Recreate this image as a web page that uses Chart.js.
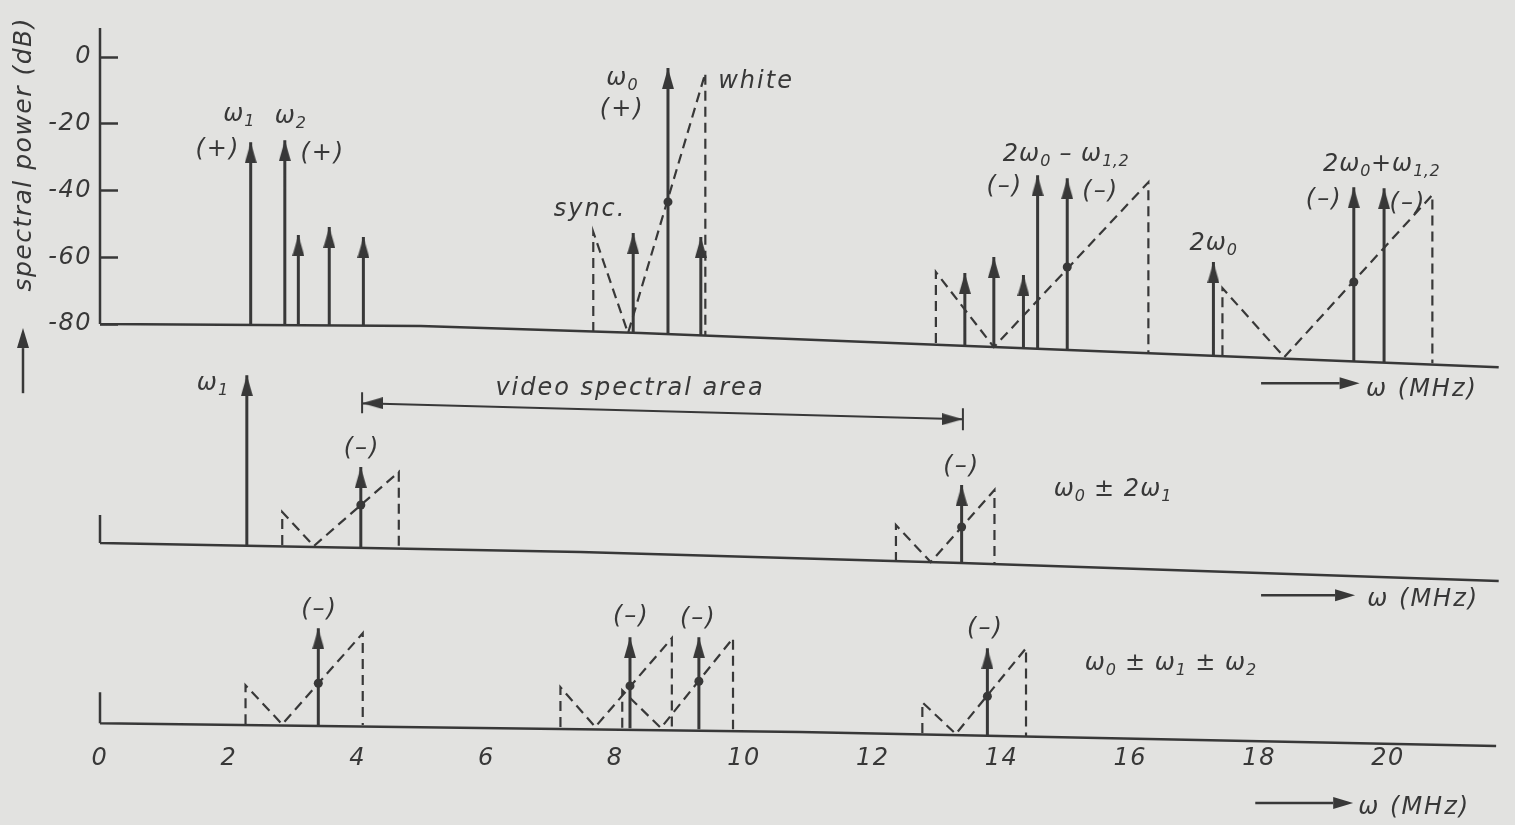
<!DOCTYPE html>
<html>
<head>
<meta charset="utf-8">
<title>spectral power</title>
<script src="https://cdn.jsdelivr.net/npm/chart.js@4.4.1/dist/chart.umd.min.js"></script>
<style>
  html, body { margin: 0; padding: 0; background: #e2e2e0; }
  #wrap { width: 1515px; height: 825px; position: relative; }
</style>
</head>
<body>
<div id="wrap"><canvas id="spectrum"></canvas></div>
<script>
// 눈금 (x: MHz, y: dB)
const xTicks = [0, 2, 4, 6, 8, 10, 12, 14, 16, 18, 20];
const yTicks = [0, -20, -40, -60, -80];

// 위 패널: 기준선, 스펙트럼 선
const topBaseX = [0, 4.98, 8.39, 13.97, 21.72];
const topBaseY = [-80.0, -80.6, -82.7, -86.9, -92.9];
const topAxisY = [8.7, -80.0];
const topLineX = [2.34, 2.87, 3.08, 3.56, 4.09, 8.28, 8.82, 9.33, 13.43, 13.88, 14.34, 14.56, 15.02, 17.29, 19.47, 19.94];
const topLineFrom = [-80.3, -80.3, -80.3, -80.4, -80.5, -82.6, -83.0, -83.3, -86.4, -86.8, -87.2, -87.3, -87.7, -89.5, -91.1, -91.5];
const topLineTo = [-25.5, -24.9, -53.3, -50.9, -53.9, -52.7, -3.3, -53.9, -64.7, -59.9, -65.3, -35.4, -36.3, -61.4, -39.0, -39.3];

// 가운데 패널: w0 ± 2w1
const midBaseX = [0, 7.46, 13.38, 21.72];
const midBaseY = [-145.6, -148.3, -151.6, -157.0];
const midStubY = [-137.2, -145.6];
const midLineX = [2.28, 4.05, 13.38];
const midLineFrom = [-146.2, -146.8, -151.6];
const midLineTo = [-95.3, -122.8, -128.2];

// 아래 패널: w0 ± w1 ± w2
const lowBaseX = [0, 10.87, 13.97, 21.68];
const lowBaseY = [-199.6, -202.2, -203.4, -206.4];
const lowStubY = [-190.3, -199.6];
const lowLineX = [3.39, 8.23, 9.30, 13.78];
const lowLineFrom = [-200.1, -201.1, -201.4, -203.1];
const lowLineTo = [-171.1, -173.8, -173.8, -177.1];

// 점선 비디오 스펙트럼 (sync ... white)
const bandX = [
    [7.66, 7.66, 8.20, 9.40, 9.40],
    [12.98, 12.98, 13.88, 16.28, 16.28],
    [17.43, 17.43, 18.39, 20.69, 20.69],
    [2.83, 2.83, 3.32, 4.64, 4.64],
    [12.36, 12.36, 12.90, 13.89, 13.89],
    [2.26, 2.26, 2.83, 4.08, 4.08],
    [7.15, 7.15, 7.69, 8.88, 8.88],
    [8.11, 8.11, 8.71, 9.83, 9.83],
    [12.77, 12.77, 13.29, 14.38, 14.38]
];
const bandY = [
    [-82.4, -52.4, -82.7, -4.8, -83.3],
    [-85.7, -64.4, -86.9, -37.5, -88.7],
    [-89.3, -69.2, -89.9, -41.3, -91.7],
    [-146.2, -136.3, -146.5, -124.3, -147.1],
    [-151.3, -140.2, -151.3, -129.7, -151.9],
    [-199.9, -188.2, -199.9, -172.6, -200.1],
    [-200.7, -188.8, -200.7, -174.1, -201.0],
    [-200.9, -189.7, -201.0, -174.1, -201.4],
    [-202.5, -193.3, -202.8, -177.1, -203.4]
];

// 점 (선과 스펙트럼이 만나는 곳)
const dotX = [8.82, 15.02, 19.47, 4.05, 13.38, 3.39, 8.23, 9.30, 13.78];
const dotY = [-43.4, -62.9, -67.4, -134.2, -140.8, -187.6, -188.4, -187.0, -191.5];

// video spectral area 치수선
const videoX = [4.07, 13.40];
const videoY = [-103.7, -108.5];
const videoBarY = [[-100.4, -106.7], [-105.2, -111.8]];

// 글자 [text, x, y, align]
const labels = [
    ['ω_1', 2.16, -16.8], ['ω_2', 2.96, -17.4],
    ['(+)', 1.83, -27.3], ['(+)', 3.46, -28.5],
    ['ω_0', 8.11, -6.0], ['(+)', 8.11, -15.3],
    ['white', 9.60, -6.9, 'left'], ['sync.', 7.61, -45.2],
    ['2ω_0 – ω_1,2', 15.00, -28.8],
    ['(–)', 14.05, -38.4], ['(–)', 15.54, -39.9],
    ['2ω_0', 17.29, -55.4],
    ['2ω_0+ω_1,2', 19.90, -31.8],
    ['(–)', 19.01, -42.2], ['(–)', 20.31, -43.4],
    ['ω (MHz)', 19.66, -99.2, 'left'],
    ['ω_1', 1.75, -97.4], ['(–)', 4.07, -116.9], ['(–)', 13.38, -122.2],
    ['ω_0 ± 2ω_1', 14.81, -129.1, 'left'],
    ['video spectral area', 8.23, -98.9],
    ['ω (MHz)', 19.68, -162.1, 'left'],
    ['(–)', 3.41, -165.1], ['(–)', 8.25, -167.2], ['(–)', 9.29, -167.8], ['(–)', 13.75, -170.8],
    ['ω_0 ± ω_1 ± ω_2', 15.29, -181.3, 'left'],
    ['ω (MHz)', 19.54, -224.4, 'left']
];

// → ω (MHz) 화살표 [x1, x2, y]
const dirArrows = [[18.03, 19.56, -97.7], [18.03, 19.49, -161.2], [17.94, 19.46, -223.5]];

const INK = '#383838';
const FONT = 'DejaVu Sans';

/**
 * 화살촉 이미지 (끝점이 캔버스 중앙)
 */
function makeHead(w, h) {
    const c = document.createElement('canvas');
    c.width = w;
    c.height = h * 2;
    const g = c.getContext('2d');
    g.fillStyle = INK;
    g.beginPath();
    g.moveTo(w / 2, h);
    g.lineTo(w, h * 2);
    g.lineTo(0, h * 2);
    g.closePath();
    g.fill();
    return c;
}
const HEAD = makeHead(12, 21);

function polyline(xs, ys) {
    const pts = xs.map((x, i) => ({x: x, y: ys[i]}));
    pts.push({x: xs[xs.length - 1], y: null});
    return pts;
}

function stems(xs, from, to) {
    const pts = [];
    xs.forEach((x, i) => {
        pts.push({x: x, y: from[i]}, {x: x, y: to[i], head: true}, {x: x, y: null});
    });
    return pts;
}

const axisData = [].concat(
    polyline([0, 0], topAxisY),
    polyline(topBaseX, topBaseY),
    polyline([0, 0], midStubY),
    polyline(midBaseX, midBaseY),
    polyline([0, 0], lowStubY),
    polyline(lowBaseX, lowBaseY)
);
const stemData = [].concat(
    stems(topLineX, topLineFrom, topLineTo),
    stems(midLineX, midLineFrom, midLineTo),
    stems(lowLineX, lowLineFrom, lowLineTo)
);
const bandData = [].concat(...bandX.map((xs, i) => polyline(xs, bandY[i])));
const dotData = dotX.map((x, i) => ({x: x, y: dotY[i]}));
const videoData = [
    {x: videoX[0], y: videoY[0], head: true, rot: -90},
    {x: videoX[1], y: videoY[1], head: true, rot: 90},
    {x: videoX[1], y: null}
].concat(polyline([videoX[0], videoX[0]], videoBarY[0]), polyline([videoX[1], videoX[1]], videoBarY[1]));

/**
 * 아래첨자 포함 글자 (ω_0 → ω₀)
 */
function drawRich(ctx, text, x, y, align, size) {
    const parts = text.split(/_([0-9,]+)/);
    const fNorm = `italic ${size}px "${FONT}"`;
    const fSub = `italic ${Math.round(size * 0.68)}px "${FONT}"`;
    const setFont = i => {
        ctx.font = i % 2 ? fSub : fNorm;
        ctx.letterSpacing = i % 2 ? '0.5px' : (parts.length > 1 ? '1px' : '2px');
    };
    let w = 0;
    parts.forEach((p, i) => {
        setFont(i);
        w += ctx.measureText(p).width;
    });
    let cx = align === 'left' ? x : (align === 'right' ? x - w : x - w / 2);
    const base = y + size * 0.32;
    ctx.textAlign = 'left';
    ctx.textBaseline = 'alphabetic';
    parts.forEach((p, i) => {
        setFont(i);
        ctx.fillText(p, cx, i % 2 ? base + size * 0.22 : base);
        cx += ctx.measureText(p).width;
    });
}

function drawArrow(ctx, x1, y1, x2, y2) {
    const len = 20, half = 6;
    const a = Math.atan2(y2 - y1, x2 - x1);
    const bx = x2 - len * Math.cos(a), by = y2 - len * Math.sin(a);
    ctx.lineWidth = 2.5;
    ctx.beginPath();
    ctx.moveTo(x1, y1);
    ctx.lineTo(bx, by);
    ctx.stroke();
    ctx.beginPath();
    ctx.moveTo(x2, y2);
    ctx.lineTo(bx + half * Math.sin(a), by - half * Math.cos(a));
    ctx.lineTo(bx - half * Math.sin(a), by + half * Math.cos(a));
    ctx.closePath();
    ctx.fill();
}

const decor = {
    id: 'decor',
    beforeDraw(chart) {
        chart.ctx.letterSpacing = '1.5px';
    },
    afterDraw(chart) {
        const {ctx} = chart;
        const xs = chart.scales.x, ys = chart.scales.y;
        ctx.save();
        ctx.fillStyle = INK;
        ctx.strokeStyle = INK;
        labels.forEach(l => {
            drawRich(ctx, l[0], xs.getPixelForValue(l[1]), ys.getPixelForValue(l[2]), l[3] || 'center', 24);
        });
        dirArrows.forEach(a => {
            const py = ys.getPixelForValue(a[2]);
            drawArrow(ctx, xs.getPixelForValue(a[0]), py, xs.getPixelForValue(a[1]), py);
        });
        // 세로축 제목 옆 화살표
        const ax = ys.left + 14;
        drawArrow(ctx, ax, ys.getPixelForValue(-100.7), ax, ys.getPixelForValue(-81.2));
        ctx.restore();
        ctx.letterSpacing = '0px';
    }
};

const tickFont = {family: FONT, size: 24, style: 'italic'};

// 축 라벨 때문에 생기는 여백 제거
function noPadding(s) {
    s.paddingTop = 0;
    s.paddingBottom = 0;
    s.paddingLeft = 0;
    s.paddingRight = 0;
}

new Chart(document.getElementById('spectrum').getContext('2d'), {
    type: 'line',
    data: {
        datasets: [
            {
                label: 'axes',
                data: axisData,
                borderColor: INK,
                borderWidth: 2.5,
                pointRadius: 0,
                clip: false
            },
            {
                label: 'video spectra',
                data: bandData,
                borderColor: INK,
                borderWidth: 2.2,
                borderDash: [10, 6],
                pointRadius: 0,
                clip: false
            },
            {
                label: 'lines',
                data: stemData,
                borderColor: INK,
                borderWidth: 3,
                pointStyle: HEAD,
                pointRadius: c => (c.raw && c.raw.head ? 3 : 0),
                clip: false
            },
            {
                label: 'video area',
                data: videoData,
                borderColor: INK,
                borderWidth: 2,
                pointStyle: HEAD,
                pointRadius: c => (c.raw && c.raw.head ? 3 : 0),
                pointRotation: c => (c.raw && c.raw.rot) || 0,
                clip: false
            },
            {
                label: 'dots',
                data: dotData,
                showLine: false,
                pointRadius: 4.5,
                pointBackgroundColor: INK,
                pointBorderWidth: 0,
                clip: false
            }
        ]
    },
    options: {
        responsive: true,
        maintainAspectRatio: false,
        animation: false,
        events: [],
        layout: {padding: {left: 9, right: 4, top: 17, bottom: 0}},
        plugins: {
            legend: {display: false},
            tooltip: {enabled: false}
        },
        scales: {
            x: {
                type: 'linear',
                min: 0,
                max: 21.88,
                afterBuildTicks: s => { s.ticks = xTicks.map(v => ({value: v})); },
                afterFit: s => { s.height = 90; noPadding(s); },
                grid: {display: false, drawTicks: false},
                border: {display: false},
                ticks: {padding: 9, color: INK, font: tickFont, maxRotation: 0, autoSkip: false}
            },
            y: {
                type: 'linear',
                min: -203.1,
                max: 12,
                afterBuildTicks: s => { s.ticks = yTicks.map(v => ({value: v})); },
                afterFit: s => { s.width = 91; noPadding(s); },
                border: {display: false},
                grid: {drawOnChartArea: false, drawTicks: true, tickLength: -18, tickWidth: 2.5, tickColor: INK},
                ticks: {padding: 26, color: INK, font: tickFont, autoSkip: false},
                title: {
                    display: true,
                    text: 'spectral power (dB)',
                    align: 'end',
                    color: INK,
                    font: {family: FONT, size: 25, style: 'italic'},
                    padding: 0
                }
            }
        }
    },
    plugins: [decor]
});
</script>
</body>
</html>
